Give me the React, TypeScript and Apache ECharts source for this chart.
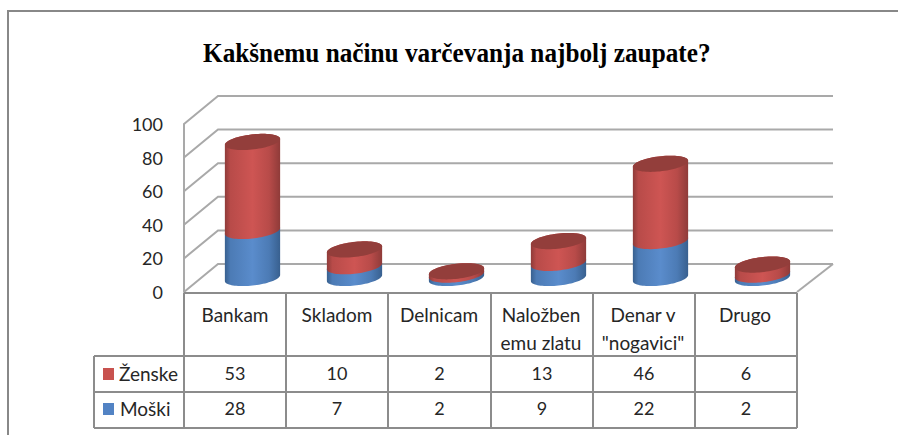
import React, { useEffect, useRef } from "react";
import * as echarts from "echarts";

const TITLE = "Kakšnemu načinu varčevanja najbolj zaupate?";
const categories = ["Bankam", "Skladom", "Delnicam", "Naložben\nemu zlatu", "Denar v\n\"nogavici\"", "Drugo"];
const female = [53, 10, 2, 13, 46, 6];
const male = [28, 7, 2, 9, 22, 2];
const valueTicks = [0, 20, 40, 60, 80, 100];
const femaleName = "Ženske";
const maleName = "Moški";

const FONT = "Lato";
const TEXT = "#262626";
const GRID = { left: 184, top: 124, width: 612, height: 168 };
const DX = 35;
const DY = -28;
const RX = 25.7;
const K = 0.29;
const GRID_COLOR = "#a9a9a9";
const TABLE_COLOR = "#8c8c8c";

const FRONT = { l: 185, r: 797 };
const ROW_Y = [293, 356, 392, 428];
const COL_X = [94, 184, 286, 388, 491, 593, 695, 797];

function ellipsePoint(cx: number, cy: number, t: number): number[] {
  return [cx + Math.cos(t) * RX + Math.sin(t) * K * DX, cy + Math.sin(t) * K * DY];
}

function cylinderPart(api: any, top: boolean, stops: string[], capColor: string) {
  const i = api.value(0);
  const base = api.coord([i, api.value(1)]);
  const end = api.coord([i, api.value(2)]);
  const cx = base[0] + DX / 2;
  const y0 = base[1] + DY / 2;
  const y1 = end[1] + DY / 2;
  const t0 = Math.atan2(K * DX, RX);
  const N = 40;
  const points: number[][] = [];
  // Front arc of the lower ellipse: right silhouette to left silhouette.
  for (let s = 0; s <= N; s++) points.push(ellipsePoint(cx, y0, t0 - Math.PI * (s / N)));
  // Back arc of the upper ellipse: left silhouette to right silhouette.
  for (let s = 0; s <= N; s++) points.push(ellipsePoint(cx, y1, t0 + Math.PI - Math.PI * (s / N)));
  const children: any[] = [
    {
      type: "polygon",
      shape: { points },
      style: {
        fill: new echarts.graphic.LinearGradient(0, 0, 1, 0, [
          { offset: 0, color: stops[0] },
          { offset: 0.1, color: stops[1] },
          { offset: 0.5, color: stops[2] },
          { offset: 0.8, color: stops[1] },
          { offset: 1, color: stops[0] },
        ]),
      },
    },
  ];
  if (top) {
    const cap: number[][] = [];
    for (let s = 0; s < 72; s++) cap.push(ellipsePoint(cx, y1, (s / 72) * Math.PI * 2));
    children.push({ type: "polygon", shape: { points: cap }, style: { fill: capColor } });
  }
  return { type: "group", children };
}

function wallRender(_p: any, api: any) {
  const v = api.value(0);
  const front = api.coord([0, v]);
  const x0 = GRID.left;
  const y = front[1];
  const x1 = GRID.left + GRID.width + DX + 2;
  const lineStyle = { stroke: GRID_COLOR, lineWidth: 2, fill: "none" };
  const children: any[] = [
    {
      type: "polyline",
      shape: { points: [[x0, y], [x0 + DX - 1, y + DY], [x1, y + DY]] },
      style: lineStyle,
    },
  ];
  if (v === 0) {
    children.push({
      type: "polyline",
      shape: { points: [[x1, y + DY], [GRID.left + GRID.width + 1, y]] },
      style: lineStyle,
    });
  }
  return { type: "group", children };
}

export default function App() {
  const ref = useRef<HTMLDivElement>(null);
  useEffect(() => {
    const chart = echarts.init(ref.current!, undefined, { renderer: "svg" });
    const line = (x1: number, y1: number, x2: number, y2: number) => ({
      type: "line",
      shape: { x1, y1, x2, y2 },
      style: { stroke: TABLE_COLOR, lineWidth: 2 },
      z: 20,
    });
    const cellText = (text: string, x: number, y: number, align: string = "center", fontSize: number = 18) => ({
      type: "text",
      x,
      y,
      z: 21,
      style: { text, fontFamily: FONT, fontSize, fill: TEXT, align, verticalAlign: "middle" },
    });
    const centers = COL_X.slice(1, -1).map((x, i) => (x + COL_X[i + 2]) / 2);
    const graphic: any[] = [
      { type: "line", shape: { x1: 8, y1: 11, x2: 898, y2: 11 }, style: { stroke: "#888888", lineWidth: 2 } },
      { type: "line", shape: { x1: 8, y1: 10, x2: 8, y2: 435 }, style: { stroke: "#888888", lineWidth: 2 } },
      {
        type: "text",
        x: 203,
        y: 53,
        scaleX: 0.935,
        z: 21,
        style: {
          text: TITLE,
          fontFamily: "Liberation Serif",
          fontWeight: "bold",
          fontSize: 27,
          fill: "#000000",
          align: "left",
          verticalAlign: "middle",
        },
      },
      line(FRONT.l - 1, ROW_Y[0], FRONT.r, ROW_Y[0]),
      line(COL_X[0], ROW_Y[1], FRONT.r, ROW_Y[1]),
      line(COL_X[0], ROW_Y[2], FRONT.r, ROW_Y[2]),
      line(COL_X[0], ROW_Y[3], FRONT.r, ROW_Y[3]),
      line(COL_X[0], ROW_Y[1], COL_X[0], ROW_Y[3]),
      ...COL_X.slice(1).map((x) => line(x, ROW_Y[0], x, ROW_Y[3])),
      { type: "rect", shape: { x: 103, y: 368, width: 11, height: 12 }, style: { fill: "#c8524f" }, z: 21 },
      { type: "rect", shape: { x: 103, y: 403, width: 11, height: 12 }, style: { fill: "#5283c4" }, z: 21 },
      cellText(femaleName, 119, 373, "left", 19),
      cellText(maleName, 120, 408, "left", 19),
      ...female.map((v, i) => cellText(String(v), centers[i], 373)),
      ...male.map((v, i) => cellText(String(v), centers[i], 408)),
    ];

    chart.setOption({
      animation: false,
      backgroundColor: "#ffffff",
      grid: { ...GRID },
      xAxis: {
        type: "category",
        data: categories,
        axisLine: { show: false },
        axisTick: { show: false },
        splitLine: { show: false },
        axisLabel: {
          interval: 0,
          margin: 8,
          fontFamily: FONT,
          fontSize: 19,
          color: TEXT,
          lineHeight: 28,
          verticalAlign: "top",
        },
      },
      yAxis: {
        type: "value",
        min: 0,
        max: 100,
        interval: 20,
        axisLine: { show: true, lineStyle: { color: GRID_COLOR, width: 2 } },
        axisTick: { show: false },
        splitLine: { show: false },
        axisLabel: { margin: 21, fontFamily: FONT, fontSize: 18, color: TEXT },
      },
      graphic,
      series: [
        {
          type: "custom",
          name: "walls",
          coordinateSystem: "cartesian2d",
          silent: true,
          clip: false,
          data: valueTicks.map((v) => [v]),
          encode: { y: 0 },
          renderItem: wallRender,
        },
        {
          type: "custom",
          name: maleName,
          coordinateSystem: "cartesian2d",
          clip: false,
          data: male.map((v, i) => [i, 0, v]),
          encode: { x: 0, y: 2 },
          renderItem: (_p: any, api: any) =>
            cylinderPart(api, false, ["#38608f", "#4c7bb5", "#5a8ccc"], "#4a77ad"),
        },
        {
          type: "custom",
          name: femaleName,
          coordinateSystem: "cartesian2d",
          clip: false,
          data: female.map((v, i) => [i, male[i], male[i] + v]),
          encode: { x: 0, y: 2 },
          renderItem: (_p: any, api: any) =>
            cylinderPart(api, true, ["#8f3b39", "#b84b49", "#ce5553"], "#933e3b"),
        },
      ],
    });
    return () => chart.dispose();
  }, []);
  return (
    <div
      ref={ref}
      style={{ position: "fixed", left: 0, top: 0, width: 898, height: 435, background: "#ffffff" }}
    />
  );
}
